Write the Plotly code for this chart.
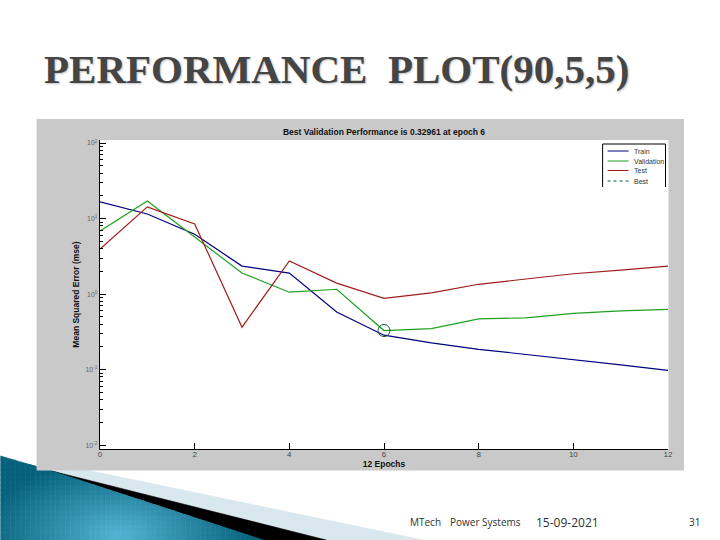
import math
import plotly.graph_objects as go

epochs = [0, 1, 2, 3, 4, 5, 6, 7, 8, 9, 10, 11, 12]
train = [16.6, 11.5, 6.2, 2.35, 1.9, 0.58, 0.286, 0.226, 0.186, 0.16, 0.136, 0.116, 0.098]
validation = [6.85, 17.1, 5.7, 1.9, 1.06, 1.16, 0.3296, 0.35, 0.47, 0.485, 0.555, 0.6, 0.63]
test = [3.95, 14.3, 8.5, 0.365, 2.75, 1.4, 0.877, 1.04, 1.35, 1.58, 1.86, 2.08, 2.35]
best_epoch = [6]
best_value = [0.32961]
legend_labels = ["Train", "Validation", "Test", "Best"]
y_tick_values = [0.01, 0.1, 1, 10, 100]
y_tick_labels = ["10<sup>-2</sup>", "10<sup>-1</sup>", "10<sup>0</sup>", "10<sup>1</sup>", "10<sup>2</sup>"]

W, H = 720, 540
L, R, T, B = 99.5, 668.5, 140.0, 449.0
PW, PH = R - L, B - T


def px(x):
    return (x - L) / PW


def py(y):
    return (B - y) / PH


def poly(points, color, layer="below"):
    path = "M" + " L".join(f"{px(x):.5f},{py(y):.5f}" for x, y in points) + " Z"
    return dict(type="path", xref="paper", yref="paper", path=path, fillcolor=color,
                line=dict(color=color, width=0.6), layer=layer)


def rect(x0, y0, x1, y1, color):
    return dict(type="rect", xref="paper", yref="paper", x0=px(x0), x1=px(x1), y0=py(y1), y1=py(y0),
                fillcolor=color, line=dict(width=0), layer="below")


def seg(x0, y0, x1, y1, color, width=1, dash="solid"):
    return dict(type="line", xref="paper", yref="paper", x0=px(x0), x1=px(x1), y0=py(y0), y1=py(y1),
                line=dict(color=color, width=width, dash=dash), layer="above")


def mix(a, b, t):
    return "#%02x%02x%02x" % tuple(round(a[i] + (b[i] - a[i]) * t) for i in range(3))


def teal_top(x):
    if x <= 50:
        return 456 + (470.7 - 456) * x / 50
    return 470.7 + (540 - 470.7) * (x - 50) / (263 - 50)


def teal(x, y):
    d = math.hypot((x - 118) / 135, (y - 535) / 75)
    return mix((84, 180, 212), (6, 98, 124), min(d, 1))


shapes = [
    poly([(86, 470), (423, 540), (326, 540), (50, 471)], "#d9e8ee"),
    poly([(50, 470.7), (326, 540), (263, 540)], "#000000"),
]
step = 5
for i in range(0, 264, step):
    x0, x1 = i, min(i + step, 263)
    top = min(teal_top(x0), teal_top(x1))
    y = int(top // step) * step
    while y < 540:
        y2 = min(y + step, 540)
        c = teal((x0 + x1) / 2, (y + y2) / 2)
        pts = [(x0, max(y, teal_top(x0))), (x1, max(y, teal_top(x1))),
               (x1, max(y2, teal_top(x1))), (x0, max(y2, teal_top(x0)))]
        if pts[3][1] > pts[0][1] or pts[2][1] > pts[1][1]:
            shapes.append(poly(pts, c))
        y = y2
shapes += [rect(36, 119, 684.5, 470.5, "#c9c9c9"), rect(L, T, R + 0.5, B, "#ffffff")]

# legend box, open at the bottom as in the source
LEG = dict(x0=603, x1=666, y0=144, y1=187)
shapes += [
    seg(LEG["x0"], LEG["y1"], LEG["x0"], LEG["y0"], "#000000"),
    seg(LEG["x0"], LEG["y0"], LEG["x1"], LEG["y0"], "#000000"),
    seg(LEG["x1"], LEG["y0"], LEG["x1"], LEG["y1"], "#000000"),
]
legend_colors = ["#000080", "#1fa01f", "#a01c1c", "#0a5a3a"]
legend_dash = ["solid", "solid", "solid", "dot"]
legend_rows = [151, 161, 170.5, 181]
annotations = []
for name, c, d, yy in zip(legend_labels, legend_colors, legend_dash, legend_rows):
    shapes.append(seg(608, yy, 629, yy, c, 1, d))
    annotations.append(dict(xref="paper", yref="paper", x=px(632), y=py(yy), text=name, showarrow=False,
                            xanchor="left", yanchor="middle",
                            font=dict(family="Liberation Sans", size=7, color="#333333")))

annotations.append(dict(xref="paper", yref="paper", x=px(336), y=py(69),
                        text="<b>PERFORMANCE&nbsp;&nbsp;PLOT(90,5,5)</b>",
                        showarrow=False, xanchor="center", yanchor="middle",
                        font=dict(family="Liberation Serif", size=41, color="#454545",
                                  shadow="1px 1px 2px #c0c0c0")))
for text, xc, size in [("MTech", 425.5, 10), ("Power Systems", 486, 10), ("15-09-2021", 567.5, 12), ("31", 695.5, 10)]:
    annotations.append(dict(xref="paper", yref="paper", x=px(xc), y=py(522), text=text, showarrow=False,
                            xanchor="center", yanchor="middle",
                            font=dict(family="Open Sans", size=size, color="#303030")))

fig = go.Figure()
for name, vals, col in [("Train", train, "#000080"), ("Validation", validation, "#1fa01f"), ("Test", test, "#a01c1c")]:
    fig.add_trace(go.Scatter(x=epochs, y=vals, mode="lines", name=name, line=dict(color=col, width=1.2)))
fig.add_trace(go.Scatter(x=best_epoch, y=best_value, mode="markers", name="Best",
                         marker=dict(symbol="circle-open", size=12, color="#0a5a3a", line=dict(width=1))))

fig.update_layout(
    width=W, height=H, autosize=False, showlegend=False,
    margin=dict(l=L, r=W - R, t=T, b=H - B, pad=0),
    paper_bgcolor="#ffffff", plot_bgcolor="rgba(0,0,0,0)",
    shapes=shapes, annotations=annotations,
    title=dict(text="<b>Best Validation Performance is 0.32961 at epoch 6</b>", xref="paper", x=0.5,
               xanchor="center", yref="container", y=1 - 132 / H, yanchor="middle",
               font=dict(family="Liberation Sans", size=8.5, color="#111111")),
)
fig.update_xaxes(
    range=[0, 12], tick0=0, dtick=2, ticks="inside", ticklen=6, tickcolor="#000000", tickwidth=1,
    showgrid=False, zeroline=False, showline=True, linecolor="#000000", linewidth=1,
    tickfont=dict(family="Liberation Sans", size=8, color="#444444"), ticklabelstandoff=-3,
    title=dict(text="<b>12 Epochs</b>", standoff=1, font=dict(family="Liberation Sans", size=8.5, color="#111111")),
)
fig.update_yaxes(
    type="log", range=[-2.05, 2.04], tickmode="array", tickvals=y_tick_values, ticktext=y_tick_labels,
    ticks="inside", ticklen=6, tickcolor="#000000", tickwidth=1, showgrid=False, zeroline=False,
    showline=True, linecolor="#000000", linewidth=1,
    minor=dict(ticks="inside", ticklen=3, tickcolor="#000000", dtick="D1", showgrid=False),
    tickfont=dict(family="Liberation Sans", size=7, color="#666666"),
    title=dict(text="<b>Mean Squared Error (mse)</b>", standoff=4,
               font=dict(family="Liberation Sans", size=8.5, color="#111111")),
)
fig.write_html("out.html", post_script="document.body.style.margin='0';",
               config=dict(displayModeBar=False))
